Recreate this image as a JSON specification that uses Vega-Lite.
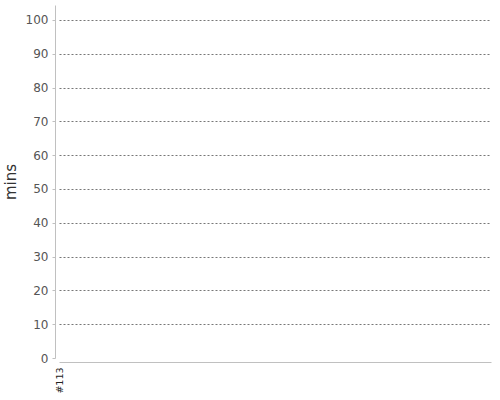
{
  "$schema": "https://vega.github.io/schema/vega-lite/v6.json",
  "autosize": "none",
  "padding": {"left": 59, "top": 5, "right": 9, "bottom": 38},
  "width": 432,
  "height": 353,
  "background": "white",
  "config": {
    "view": {"stroke": null},
    "font": "DejaVu Sans"
  },
  "data": {
    "values": [
      {"build": "#113", "mins": 0}
    ]
  },
  "mark": {"type": "line", "color": "#4a90d9"},
  "encoding": {
    "x": {
      "field": "build",
      "type": "ordinal",
      "title": null,
      "scale": {"type": "point", "padding": 0, "align": 0},
      "axis": {
        "offset": 4,
        "domainColor": "#c0c0c0",
        "ticks": false,
        "labelAngle": -90,
        "labelAlign": "right",
        "labelBaseline": "middle",
        "labelFontSize": 9.5,
        "labelColor": "#222",
        "labelPadding": 5,
        "grid": false
      }
    },
    "y": {
      "field": "mins",
      "type": "quantitative",
      "title": "mins",
      "scale": {"domain": [0, 104.4], "nice": false, "zero": true},
      "axis": {
        "values": [0, 10, 20, 30, 40, 50, 60, 70, 80, 90, 100],
        "offset": 4,
        "domainColor": "#c0c0c0",
        "tickColor": "#c0c0c0",
        "tickSize": 3,
        "labelColor": "#555",
        "labelFontSize": 12,
        "labelFontWeight": "normal",
        "labelPadding": 4,
        "titleFontSize": 15,
        "titleFontWeight": "normal",
        "titleColor": "#333",
        "titlePadding": 7,
        "gridColor": "#777",
        "gridDash": [2, 2],
        "gridWidth": 1,
        "gridOpacity": {"condition": {"test": "datum.value === 0", "value": 0}, "value": 1}
      }
    }
  }
}
